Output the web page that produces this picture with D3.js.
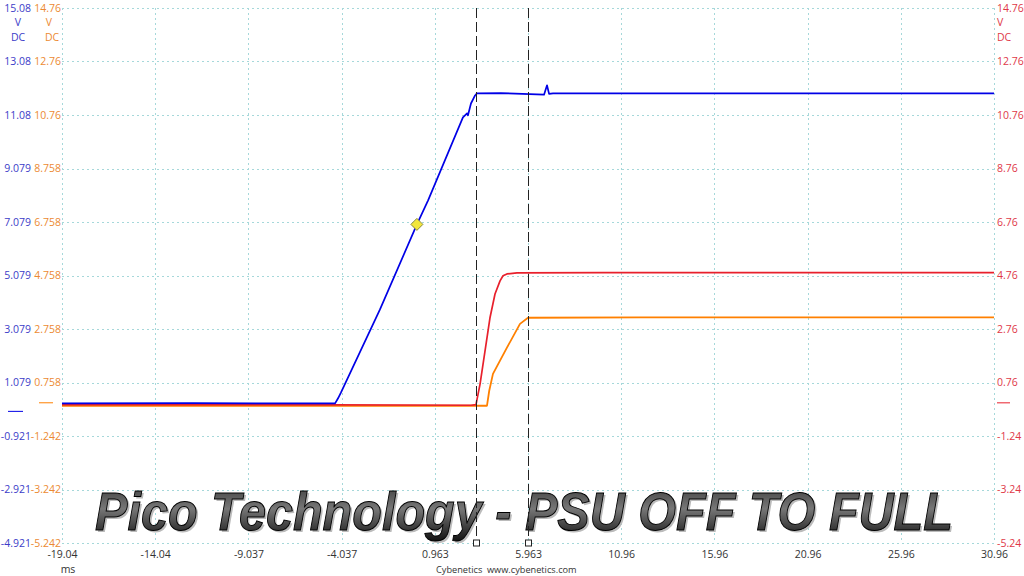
<!DOCTYPE html>
<html>
<head>
<meta charset="utf-8">
<script src="https://cdn.jsdelivr.net/npm/d3@7"></script>
<style>
  body { margin: 0; background: #fff; }
  text { font-family: "Open Sans", "DejaVu Sans", sans-serif; }
</style>
</head>
<body>
<div id="canvas"></div>
<script>
"use strict"

/* Tick labels, as printed on the scope screen */
let timeTicks = [-19.04, -14.04, -9.037, -4.037, 0.963, 5.963, 10.96, 15.96, 20.96, 25.96, 30.96];
let blueTicks = [15.08, 13.08, 11.08, 9.079, 7.079, 5.079, 3.079, 1.079, -0.921, -2.921, -4.921];
let orangeTicks = [14.76, 12.76, 10.76, 8.758, 6.758, 4.758, 2.758, 0.758, -1.242, -3.242, -5.242];
let redTicks = ["14.76", "12.76", "10.76", "8.76", "6.76", "4.76", "2.76", "0.76", "-1.24", "-3.24", "-5.24"];

let blueTime = [-19.04, -12.0, -8.0, -4.39, -4.23, -4.07, -1.98, 0.0, 0.60, 2.47, 2.69, 2.74, 2.90, 3.12, 3.22, 4.5, 6.82, 6.98, 7.09, 7.30, 15.0, 30.96];
let blueVolts = [0.30, 0.31, 0.30, 0.30, 0.49, 0.71, 3.81, 6.99, 7.89, 10.99, 11.14, 11.07, 11.51, 11.81, 11.89, 11.90, 11.84, 12.19, 11.87, 11.89, 11.89, 11.89];
let redTime = [-19.04, -8.0, 2.9, 3.17, 3.39, 3.92, 4.19, 4.46, 4.62, 4.83, 5.37, 10.0, 30.96];
let redVolts = [-0.07, -0.07, -0.09, -0.07, 0.71, 3.18, 4.07, 4.56, 4.75, 4.82, 4.86, 4.87, 4.87];
let orangeTime = [-19.04, 3.76, 3.88, 4.08, 4.83, 5.53, 5.96, 12.0, 30.96];
let orangeVolts = [-0.11, -0.11, 0.45, 1.08, 2.06, 2.95, 3.18, 3.19, 3.19];

/* Cursors and trigger */
let cursorTimes = [3.17, 5.963];
let triggerPoint = {t: 0.0, v: 6.99};

let svgWidth = 1024;
let svgHeight = 576;
let plotLeft = 62, plotRight = 994, plotTop = 8, plotBottom = 543;

let blueCol = "#0000e6", redCol = "#e8202c", orangeCol = "#ff8000";
let blueLbl = "#3c3cc8", orangeLbl = "#ec8a32", redLbl = "#e03848";
let gridCol = "#a6d8da";

let svg = d3.select("#canvas")
    .append("svg")
    .attr("width", svgWidth)
    .attr("height", svgHeight);

let xScale = d3.scaleLinear().domain([-19.04, 30.96]).range([plotLeft, plotRight]);
let yBlue = d3.scaleLinear().domain([-4.921, 15.08]).range([plotBottom, plotTop]);
let yOrange = d3.scaleLinear().domain([-5.242, 14.76]).range([plotBottom, plotTop]);
let yRed = d3.scaleLinear().domain([-5.24, 14.76]).range([plotBottom, plotTop]);

/* grid */
let grid = svg.append("g")
    .attr("stroke", gridCol)
    .attr("stroke-width", 1)
    .attr("stroke-dasharray", "2,3");

timeTicks.forEach(function (t) {
    grid.append("line")
        .attr("x1", Math.round(xScale(t)) + 0.5).attr("x2", Math.round(xScale(t)) + 0.5)
        .attr("y1", plotTop).attr("y2", plotBottom);
});
blueTicks.forEach(function (v) {
    grid.append("line")
        .attr("x1", plotLeft).attr("x2", plotRight)
        .attr("y1", Math.round(yBlue(v)) + 0.5).attr("y2", Math.round(yBlue(v)) + 0.5);
});

/* left axes: blue and orange labels */
let blueAxis = d3.axisLeft(yBlue).tickValues(blueTicks).tickSize(0).tickPadding(0)
    .tickFormat(function (d, i) { return blueTicks[i]; });
let gBlue = svg.append("g").attr("transform", "translate(31,0)").call(blueAxis);
gBlue.select(".domain").remove();
gBlue.selectAll("text").attr("fill", blueLbl).style("font-size", "10.5px");

let orangeAxis = d3.axisLeft(yOrange).tickValues(orangeTicks).tickSize(0).tickPadding(0)
    .tickFormat(function (d, i) { return orangeTicks[i]; });
let gOrange = svg.append("g").attr("transform", "translate(61,0)").call(orangeAxis);
gOrange.select(".domain").remove();
gOrange.selectAll("text").attr("fill", orangeLbl).style("font-size", "10.5px");

/* right axis: red */
let redAxis = d3.axisRight(yRed).tickValues(redTicks.map(Number)).tickSize(0).tickPadding(0)
    .tickFormat(function (d, i) { return redTicks[i]; });
let gRed = svg.append("g").attr("transform", "translate(997,0)").call(redAxis);
gRed.select(".domain").remove();
gRed.selectAll("text").attr("fill", redLbl).style("font-size", "10.5px");

/* bottom axis */
let timeAxis = d3.axisBottom(xScale).tickValues(timeTicks).tickSize(0).tickPadding(0)
    .tickFormat(function (d, i) { return timeTicks[i]; });
let gTime = svg.append("g").attr("transform", "translate(0," + (plotBottom + 8) + ")").call(timeAxis);
gTime.select(".domain").remove();
gTime.selectAll("text").attr("fill", "#333").style("font-size", "10.5px");

/* units */
function unitText(x, y, txt, col, anchor, size) {
    svg.append("text")
        .attr("x", x).attr("y", y)
        .attr("text-anchor", anchor)
        .attr("fill", col)
        .style("font-size", (size || 10.5) + "px")
        .text(txt);
}
unitText(18, 26, "V", blueLbl, "middle");
unitText(18, 41, "DC", blueLbl, "middle");
unitText(49, 26, "V", orangeLbl, "middle");
unitText(52, 41, "DC", orangeLbl, "middle");
unitText(997, 26, "V", redLbl, "start");
unitText(997, 41, "DC", redLbl, "start");
unitText(68, 573, "ms", "#333", "middle");
unitText(436, 573, "Cybenetics", "#333", "start", 9.2);
unitText(487, 573, "www.cybenetics.com", "#333", "start", 9.2);

/* zero level markers */
svg.append("line").attr("x1", 8).attr("x2", 23)
    .attr("y1", yBlue(0)).attr("y2", yBlue(0)).attr("stroke", blueCol);
svg.append("line").attr("x1", 39).attr("x2", 53)
    .attr("y1", yOrange(0)).attr("y2", yOrange(0)).attr("stroke", orangeCol);
svg.append("line").attr("x1", 997).attr("x2", 1010)
    .attr("y1", yRed(0)).attr("y2", yRed(0)).attr("stroke", redCol);

/* title with a bevel-ish look */
let defs = svg.append("defs");
let grad = defs.append("linearGradient")
    .attr("id", "titleGrad")
    .attr("x1", 0).attr("y1", 0).attr("x2", 0).attr("y2", 1);
grad.append("stop").attr("offset", "0%").attr("stop-color", "#3a3a3a");
grad.append("stop").attr("offset", "45%").attr("stop-color", "#777");
grad.append("stop").attr("offset", "100%").attr("stop-color", "#111");

let titleText = "Pico Technology - PSU OFF TO FULL";
let titleWidth = 858;
function titleLayer(dx, dy, fill, stroke) {
    let g = svg.append("g");
    let t = g.append("text")
        .attr("x", 0).attr("y", 0)
        .attr("fill", fill)
        .style("font-family", "'Liberation Sans', Arial, sans-serif")
        .style("font-weight", "bold").style("font-style", "italic")
        .style("font-size", "53px")
        .text(titleText);
    if (stroke) t.attr("stroke", stroke).attr("stroke-width", 1);
    let w = t.node().getComputedTextLength();
    g.attr("transform", "translate(" + (95 + dx) + "," + (530 + dy) + ") scale(" + (titleWidth / w) + ",1)");
}
titleLayer(2, 2, "#bbb", null);
titleLayer(0, 0, "url(#titleGrad)", "#000");

/* traces */
function trace(ts, vs, yScale, col, w) {
    let pts = ts.map(function (t, i) { return [xScale(t), yScale(vs[i])]; });
    svg.append("path")
        .attr("d", d3.line()(pts))
        .attr("fill", "none")
        .attr("stroke", col)
        .attr("stroke-width", w)
        .attr("stroke-linejoin", "round");
}
trace(orangeTime, orangeVolts, yOrange, orangeCol, 1.8);
trace(redTime, redVolts, yRed, redCol, 1.7);
trace(blueTime, blueVolts, yBlue, blueCol, 1.7);

/* cursors */
cursorTimes.forEach(function (t) {
    let cx = Math.round(xScale(t)) + 0.5;
    svg.append("line")
        .attr("x1", cx).attr("x2", cx)
        .attr("y1", plotTop).attr("y2", plotBottom)
        .attr("stroke", "#222")
        .attr("stroke-width", 1)
        .attr("stroke-dasharray", "10,4");
    svg.append("rect")
        .attr("x", cx - 3).attr("y", plotBottom - 3)
        .attr("width", 6).attr("height", 6)
        .attr("fill", "#fff")
        .attr("stroke", "#222");
});

/* trigger marker */
let tx = xScale(triggerPoint.t), ty = yBlue(triggerPoint.v);
svg.append("path")
    .attr("d", "M" + tx + "," + (ty - 6) + "L" + (tx + 6) + "," + ty + "L" + tx + "," + (ty + 6) + "L" + (tx - 6) + "," + ty + "Z")
    .attr("fill", "#f2e63a")
    .attr("stroke", "#8a8a40")
    .attr("stroke-width", 1);
</script>
</body>
</html>
